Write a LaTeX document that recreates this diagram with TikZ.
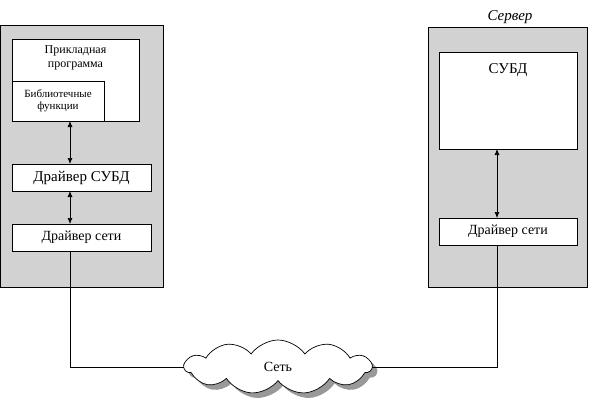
\documentclass[tikz,border=0pt]{standalone}
\usepackage{fontspec}
\setmainfont{Liberation Serif}
\usepackage{tikz}
\usetikzlibrary{arrows.meta, positioning, shapes.symbols, shadows}

\begin{document}
\begin{tikzpicture}[
        x=1pt, y=-1pt,
        every node/.style={inner sep=0pt, outer sep=0pt},
        panel/.style={draw, fill=gray!35, line width=0.7pt, anchor=north west},
        box/.style={draw, fill=white, line width=0.7pt, anchor=north west},
        link/.style={line width=0.7pt, {Latex[length=6pt,width=5pt]}-{Latex[length=6pt,width=5pt]}},
        wire/.style={line width=0.7pt}
    ]
    \useasboundingbox (0,0) rectangle (590,408);

    % Client side
    \node[panel, minimum width=163, minimum height=262] (client) at (0,25) {};
    \node[box, minimum width=127, minimum height=82] (app) at (12,39) {};
    \node[below=7pt of app.north, align=center, font=\fontsize{12}{14}\selectfont] (apptext) {Прикладная\\программа};
    \node[box, minimum width=92, minimum height=40] (lib) at (12,81) {};
    \node[align=center, font=\fontsize{11}{12}\selectfont] (libtext) at (lib.center) {Библиотечные\\функции};
    \node[box, minimum width=139, minimum height=27, font=\fontsize{15}{17}\selectfont] (dbdrv) at (12,164) {Драйвер СУБД};
    \node[box, minimum width=139, minimum height=27, font=\fontsize{14}{16}\selectfont] (netcl) at (12,224) {Драйвер сети};

    % Server side
    \node[font=\itshape\fontsize{15}{17}\selectfont] (srvtext) at (510,17) {Сервер};
    \node[panel, minimum width=159, minimum height=260] (server) at (428,27) {};
    \node[box, minimum width=138, minimum height=97] (dbms) at (439,52) {};
    \node[below=12pt of dbms.north, font=\fontsize{15}{17}\selectfont] (dbmstext) {СУБД};
    \node[box, minimum width=138, minimum height=27, font=\fontsize{14}{16}\selectfont] (netsrv) at (439,218) {Драйвер сети};

    % Network
    \node[cloud, draw, fill=white, line width=0.7pt, cloud puffs=11, cloud puff arc=110, aspect=3.3,
          minimum width=187, minimum height=54,
          drop shadow={shadow xshift=5pt, shadow yshift=-5pt, fill=gray!80, opacity=1},
          font=\fontsize{14}{16}\selectfont] (net) at (278,367) {Сеть};

    % Arrows
    \draw[link] (app.south -| 70,0) -- (dbdrv.north -| 70,0);
    \draw[link] (dbdrv.south -| 70,0) -- (netcl.north -| 70,0);
    \draw[link] (dbms.south -| 497,0) -- (netsrv.north -| 497,0);

    % Wires
    \draw[wire] (netcl.south -| 70,0) |- (net.west);
    \draw[wire] (netsrv.south -| 497,0) |- (net.east);
\end{tikzpicture}
\end{document}
